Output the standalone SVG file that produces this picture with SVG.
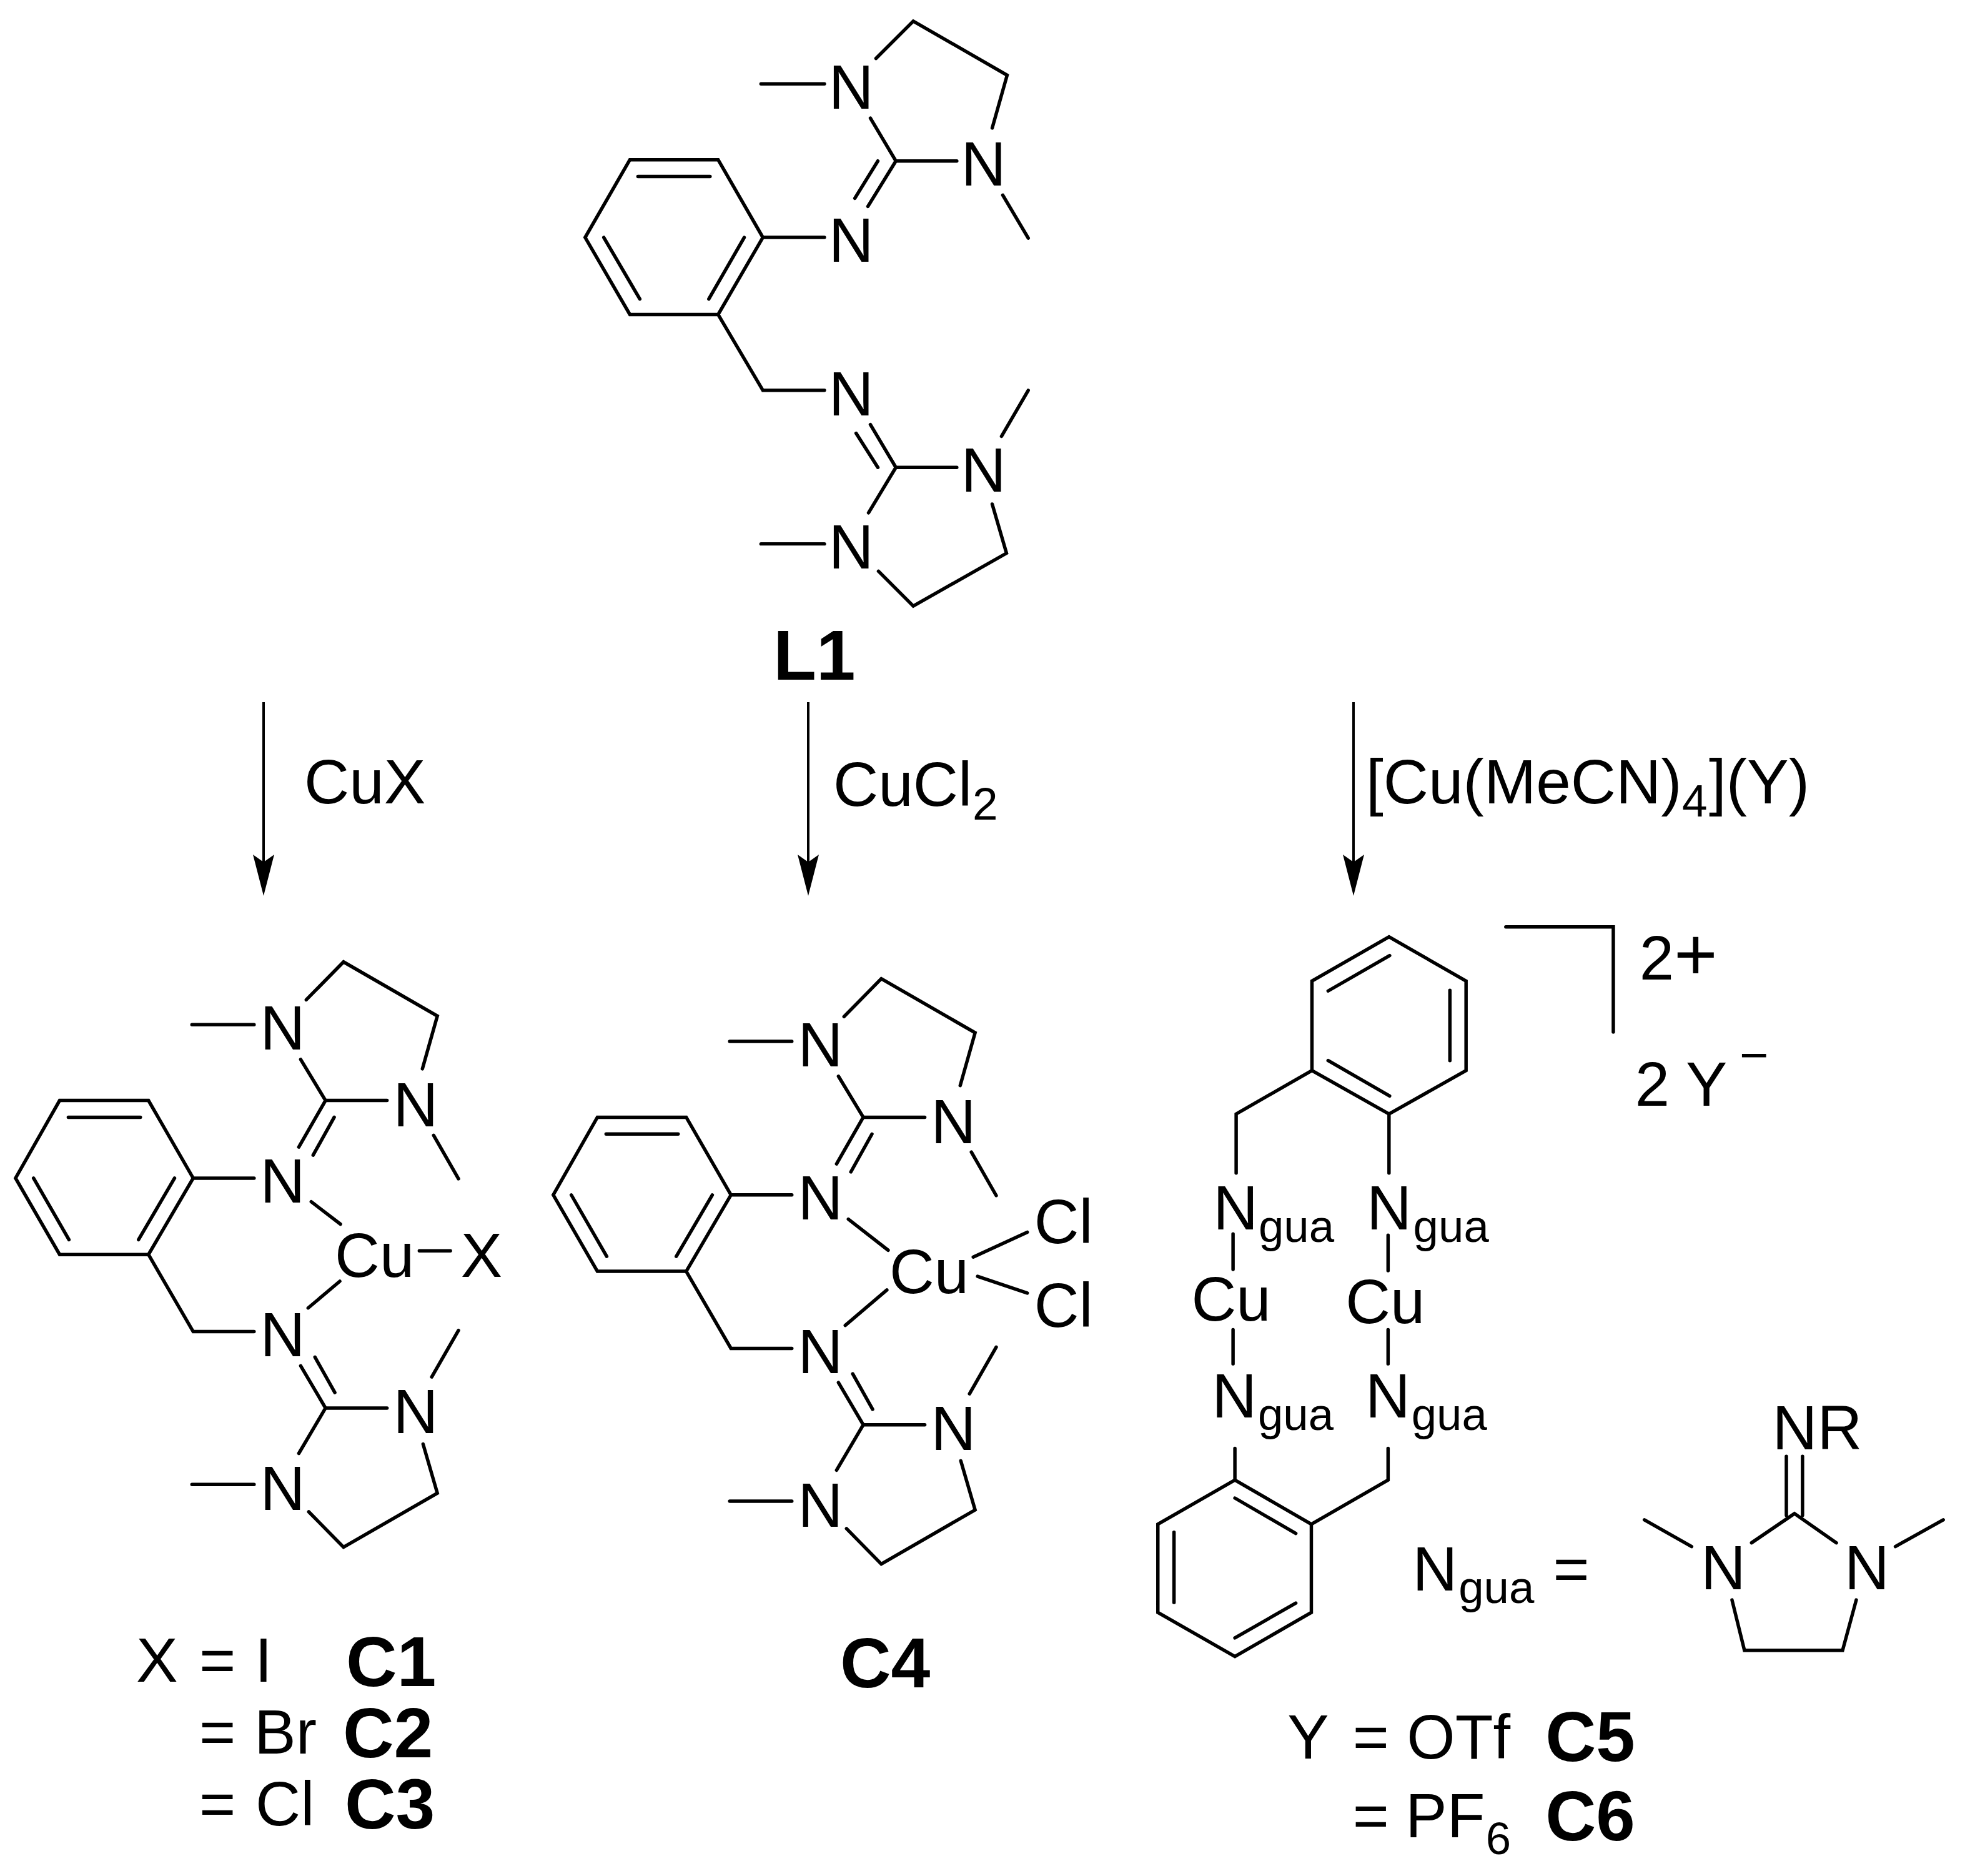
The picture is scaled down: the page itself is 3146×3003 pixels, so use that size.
<svg xmlns="http://www.w3.org/2000/svg" width="3146" height="3003" viewBox="0 0 3146 3003">
<style>
text{font-family:"Liberation Sans",Arial,sans-serif;font-size:100px;fill:#000}
.n{text-anchor:middle}
.s{font-size:73px}
.b{font-weight:bold;font-size:113px}
.bond{fill:none;stroke:#000;stroke-width:5.5;stroke-linecap:round;stroke-linejoin:miter}
.arrow{fill:none;stroke:#000;stroke-width:4;marker-end:url(#head)}
</style>
<defs>
<marker id="head" markerUnits="userSpaceOnUse" viewBox="0 0 66 34" markerWidth="66" markerHeight="34" refX="12" refY="17" orient="auto"><path d="M0,0L66,17L0,34L12,17Z" fill="#000"/></marker>
</defs>
<rect width="3146" height="3003" fill="#fff"/>
<g id="connectors">
<path class="arrow" d="M422,1124V1380"/>
<path class="arrow" d="M1294,1124V1380"/>
<path class="arrow" d="M2167,1124V1380"/>
</g>
<g id="L1" transform="translate(4.5,0) scale(.995)">
<path class="bond" d="M1009,257H1151L1223,382L1151,506H1009L937,382ZM1022,284H1138M967,382L1025,481M1193,382L1136,481M1223,382H1322M1151,506L1223,628H1322M1220,135H1322M1396,190L1437,259H1535M1437,259L1392,332M1408,259L1371,319M1405,94L1465,34L1616,121L1592,206M1609,314L1650,383M1396,683L1437,752H1535M1373,697L1408,752M1607,702L1650,628M1437,752L1393,825M1220,875H1322M1592,811L1615,890L1465,975L1409,919"/>
<text class="n" x="1365" y="175">N</text><text class="n" x="1578" y="298">N</text><text class="n" x="1365" y="421">N</text><text class="n" x="1365" y="668">N</text><text class="n" x="1578" y="791">N</text><text class="n" x="1365" y="915">N</text>
<text class="b" x="1240" y="1093">L1</text>
</g>
<g id="reagent-CuX"><text x="487" y="1286">CuX</text></g>
<g id="reagent-CuCl2"><text x="1334" y="1290">CuCl</text><text class="s" x="1557" y="1312">2</text></g>
<g id="reagent-CuMeCN"><text x="2187" y="1286">[Cu(MeCN)</text><text class="s" x="2693" y="1307">4</text><text x="2736" y="1286">](Y)</text></g>
<g id="C1" transform="translate(0,8.1) scale(.9946)">
<path class="bond" d="M96,1763H239L311,1888L239,2011H96L25,1888ZM110,1790H226M54,1888L111,1987M281,1888L223,1987M311,1888H409M239,2011L311,2135H409M309,1641H409M484,1697L524,1763H623M524,1763L481,1838M538,1790L504,1851M493,1601L553,1540L704,1627L680,1712M698,1819L738,1889M501,1926L548,1962M547,2054L496,2097M675,2005H725M484,2190L524,2258H623M507,2176L539,2233M695,2208L738,2133M524,2258L481,2331M309,2381H409M681,2316L704,2395L553,2482L497,2425"/>
<text class="n" x="455" y="1681">N</text><text class="n" x="669" y="1805">N</text><text class="n" x="455" y="1927">N</text><text class="n" x="455" y="2175">N</text><text class="n" x="669" y="2298">N</text><text class="n" x="455" y="2422">N</text>
<text x="539" y="2047">Cu</text><text class="n" x="775" y="2047">X</text>
</g>
<g id="C4" transform="translate(4.6,8.1) scale(.9946)">
<path class="bond" transform="translate(861,27)" d="M96,1763H239L311,1888L239,2011H96L25,1888ZM110,1790H226M54,1888L111,1987M281,1888L223,1987M311,1888H409M239,2011L311,2135H409M309,1641H409M484,1697L524,1763H623M524,1763L481,1838M538,1790L504,1851M493,1601L553,1540L704,1627L680,1712M698,1819L738,1889M484,2190L524,2258H623M507,2176L539,2233M695,2208L738,2133M524,2258L481,2331M309,2381H409M681,2316L704,2395L553,2482L497,2425"/>
<path class="bond" d="M1361,1954L1425,2004M1423,2068L1356,2125M1562,2015L1649,1975M1569,2046L1649,2073"/>
<text class="n" x="1316" y="1708">N</text><text class="n" x="1530" y="1832">N</text><text class="n" x="1316" y="1954">N</text><text class="n" x="1316" y="2202">N</text><text class="n" x="1530" y="2325">N</text><text class="n" x="1316" y="2449">N</text>
<text x="1427" y="2073">Cu</text><text x="1660" y="1993">Cl</text><text x="1660" y="2127">Cl</text>
</g>
<g id="C5-C6" transform="translate(9.4,7.5) scale(.9948)">
<path class="bond" d="M2226,1500L2350,1571V1715L2226,1785L2102,1715V1571ZM2128,1587L2227,1530M2324,1586V1699M2128,1699L2227,1756M2102,1715L1980,1785V1880M2226,1785V1880M1975,1978V2035M1975,2132V2187M2224.5,1980V2037M2224.5,2132V2187M1978,2323V2374M1978,2374L2101,2445V2587L1978,2658L1854,2587V2445ZM1978,2403L2076,2460M1880,2458V2571M1978,2628L2076,2572M2101,2445L2224.5,2374V2323M2414,1484H2587V1653"/>
<text x="1943" y="1971">N</text><text class="s" x="2016" y="1991">gua</text>
<text x="2190" y="1971">N</text><text class="s" x="2265" y="1991">gua</text>
<text x="1908" y="2118">Cu</text><text x="2156" y="2122">Cu</text>
<text x="1941" y="2273">N</text><text class="s" x="2015" y="2293">gua</text>
<text x="2188" y="2273">N</text><text class="s" x="2262" y="2293">gua</text>
<text x="2629" y="1569">2<tspan font-size="120">+</tspan></text>
<text x="2622" y="1772">2 Y</text><text x="2790" y="1717" style="font-size:80px">−</text>
</g>
<g id="Ngua-legend" transform="translate(9.4,7.5) scale(.9948)">
<path class="bond" d="M2865.5,2336V2431M2891.5,2336V2431M2809.5,2475L2878.5,2428L2946,2475M2637,2438L2713,2481M3041,2481L3118,2438M2778,2567L2798,2648H2956L2978,2567"/>
<text x="2264" y="2552">N</text><text class="s" x="2338" y="2572">gua</text><text x="2490" y="2552">=</text>
<text x="2843" y="2325">NR</text>
<text class="n" x="2764" y="2550">N</text><text class="n" x="2995" y="2550">N</text>
</g>
<g id="labels">
<text x="218" y="2692">X</text><text x="319" y="2692">=</text><text x="408" y="2692">I</text><text class="b" x="554" y="2699">C1</text>
<text x="319" y="2807">=</text><text x="407" y="2807">Br</text><text class="b" x="549" y="2813">C2</text>
<text x="319" y="2922">=</text><text x="409" y="2922">Cl</text><text class="b" x="552" y="2927">C3</text>
<text class="b" x="1345" y="2701">C4</text>
<g transform="translate(12,13) scale(.9948)">
<text x="2060" y="2817">Y</text><text x="2165" y="2817">=</text><text x="2252" y="2817">OTf</text><text class="b" x="2475" y="2821">C5</text>
<text x="2165" y="2943">=</text><text x="2250" y="2943">PF</text><text class="s" x="2379" y="2970">6</text><text class="b" x="2475" y="2948">C6</text>
</g>
</g>
</svg>
